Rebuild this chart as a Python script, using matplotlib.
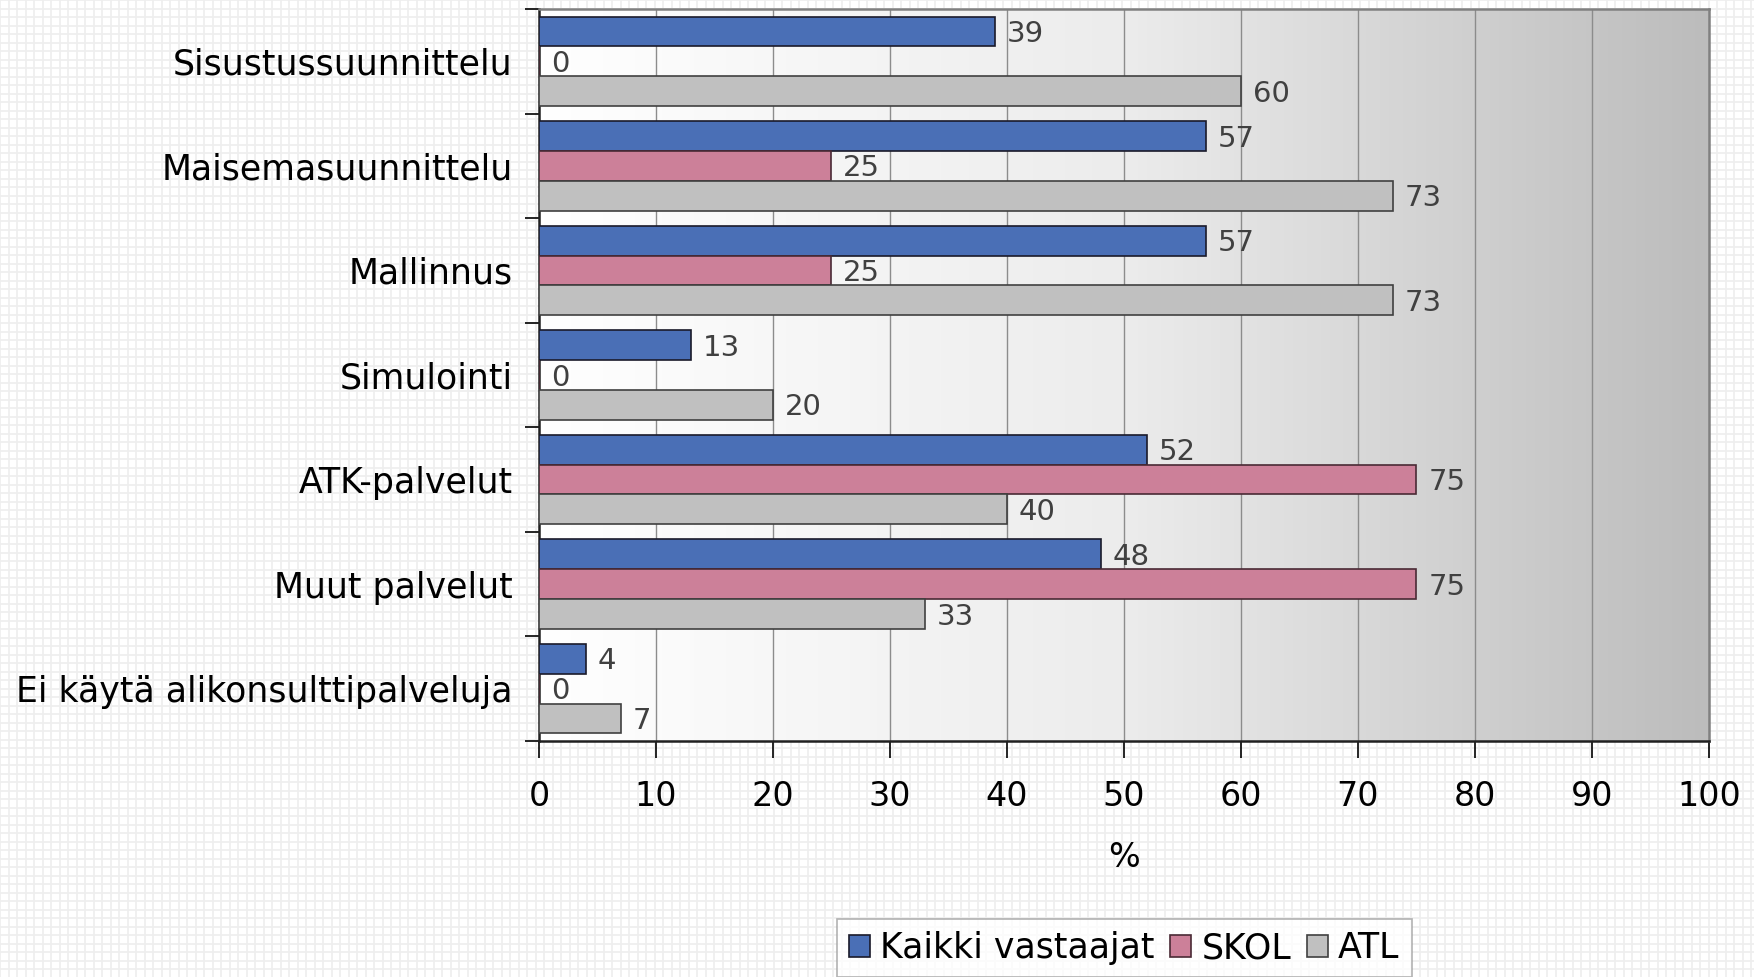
import numpy as np
import matplotlib
matplotlib.use("Agg")
import matplotlib.pyplot as plt
from matplotlib.colors import LinearSegmentedColormap
from matplotlib.patches import Patch

categories = ["Sisustussuunnittelu", "Maisemasuunnittelu", "Mallinnus", "Simulointi",
              "ATK-palvelut", "Muut palvelut", "Ei käytä alikonsulttipalveluja"]
kaikki = [39, 57, 57, 13, 52, 48, 4]
skol = [0, 25, 25, 0, 75, 75, 0]
atl = [60, 73, 73, 20, 40, 33, 7]
series_names = ["Kaikki vastaajat", "SKOL", "ATL"]
colors = ["#4a6fb6", "#cc8099", "#c0c0c0"]
edges = ["#1a1a2a", "#4a2a35", "#404040"]

plt.rcParams['font.family'] = ['DejaVu Sans']

fig = plt.figure(figsize=(17.54, 9.77), dpi=100)

# faint square pattern on the page background
bg = fig.add_axes([0, 0, 1, 1], zorder=-10)
bg.set_xlim(0, 1754)
bg.set_ylim(977, 0)
for p in np.arange(0, 1754, 8.5):
    bg.axvline(p, color="#eeeeee", lw=1.2)
for p in np.arange(0, 977, 8.5):
    bg.axhline(p, color="#eeeeee", lw=1.2)
bg.axis("off")

ax = fig.add_axes([0.3073, 0.2416, 0.9743 - 0.3073, 0.9908 - 0.2416])
ax.set_xlim(0, 100)
ax.set_ylim(len(categories) - 0.5, -0.5)

# gradient in plot area
cmap = LinearSegmentedColormap.from_list("g", ["#ffffff", "#ececec", "#bcbcbc"])
grad = np.linspace(0, 1, 256).reshape(1, -1)
ax.imshow(grad, cmap=cmap, extent=(0, 100, len(categories) - 0.5, -0.5),
          aspect="auto", zorder=0)

for x in range(10, 100, 10):
    ax.axvline(x, color="#8c8c8c", lw=1, zorder=1)

h = 0.285
y = np.arange(len(categories))
for k, vals in enumerate([kaikki, skol, atl]):
    pos = y + (k - 1) * h
    ax.barh(pos, vals, height=h, color=colors[k], edgecolor=edges[k], lw=1.2, zorder=3)
    for yy, v in zip(pos, vals):
        ax.text(v + 1.0, yy + 0.025, str(v), va="center", ha="left", fontsize=21,
                color="#404040", zorder=4)

ax.set_yticks(np.arange(-0.5, len(categories)), minor=False)
ax.set_yticklabels([])
ax.set_yticks(y, minor=True)
ax.set_yticklabels(categories, minor=True, fontsize=25)
ax.tick_params(axis="y", which="minor", length=0, pad=19)
ax.tick_params(axis="y", which="major", length=10, width=1.2, direction="out")

ax.set_xticks(range(0, 101, 10))
ax.tick_params(axis="x", length=12, width=1.2, direction="out", labelsize=24, pad=16)
ax.set_xlabel("%", fontsize=24, labelpad=20)

for s in ["left", "bottom"]:
    ax.spines[s].set_color("#202020")
    ax.spines[s].set_linewidth(1.8)
for s in ["top", "right"]:
    ax.spines[s].set_color("#808080")
    ax.spines[s].set_linewidth(1.8)

handles = [Patch(facecolor=c, edgecolor=e, lw=1.2) for c, e in zip(colors, edges)]
leg = fig.legend(handles, series_names, loc="upper center", bbox_to_anchor=(0.641, 0.0594),
                 ncol=3, fontsize=25, frameon=True, fancybox=False, handlelength=0.6,
                 handleheight=0.6, handletextpad=0.3, columnspacing=0.45,
                 borderpad=0.35, borderaxespad=0)
leg.get_frame().set_edgecolor("#a0a0a0")
leg.get_frame().set_linewidth(1.2)

fig.savefig("out.png", dpi=100)
